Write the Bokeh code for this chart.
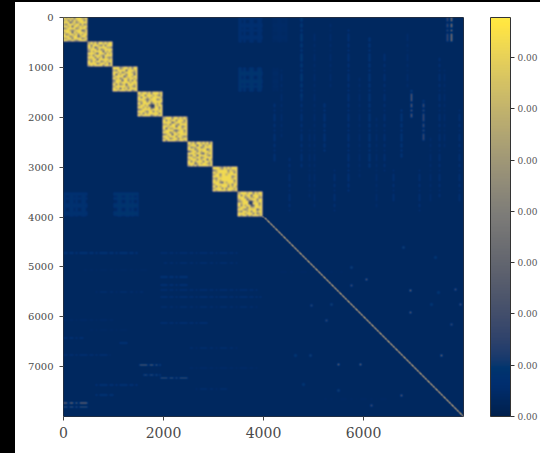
from bokeh.plotting import figure
from bokeh.embed import file_html
from bokeh.resources import INLINE
from bokeh.models import (LinearColorMapper, ColorBar, FixedTicker, Range1d)
from bokeh.palettes import Cividis256
import numpy as np

# ---- data ----
n_side = 8000
vmax = 0.00778
background = 0.043
block_edges = [0, 480, 980, 1480, 1980, 2480, 2980, 3480, 3980]
block_textures = [
 ["989897999889","897979899979","999689789999","879998997978","998969989899","789999789998",
  "999878999679","899969899989","978998979899","999789968998","889979999789","998898789998"],
 ["898979989899","979998797999","989689999887","899979789999","798999969898","999869997989",
  "897999879999","999798969878","889969999989","979899789899","999978998969","898999979989"],
 ["999789989799","879999699989","998978999879","969899799969","899996899899","989789989989",
  "799969979798","899899998999","979789699989","899999889879","989698979999","998999899789"],
 ["989989799989","899799989879","979989899998","999868999789","889979899999","979999689897",
  "899896439899","998989559979","789999899989","999879979899","897989999979","989999789899"],
 ["899979989898","979899799979","999968999889","889799879999","998999699789","969889999899",
  "899997689979","999789899989","789969989999","998999799878","899789979899","979999889989"],
 ["989799898979","899969979899","978899789999","999789999689","689979899989","999899769899",
  "879969999879","998899789999","899979899698","979899979989","999689899879","898979999989"],
 ["999879898999","789999979889","989999989979","899799899999","999899999789","879999999899",
  "989899999979","999769899989","899999989799","979899979898","899979799989","989999899889"],
 ["899989979899","979899699989","999789889978","899968999799","789995489899","989994399979",
  "979899569989","899979889999","998789999689","879989799899","999899979789","989979899989"],
]
block_top = 0.93
# faint rectangular patches: x0, x1, y0, y1, level
patches = [
 (3500, 3980, 0, 500, 0.09), (3500, 3980, 1000, 1480, 0.12),
 (0, 480, 3500, 3980, 0.10), (1000, 1500, 3500, 3980, 0.12),
 (4180, 4480, 0, 500, 0.06), (4180, 4300, 1000, 1480, 0.06),
]
patch_grid = "10011010011001"
# vertical streaks: x, y0, y1, level
v_streaks = [
 (4740, 0, 1600, 0.15), (4740, 1600, 3000, 0.09), (7740, 0, 500, 0.40), (7660, 0, 500, 0.22),
 (6940, 1460, 2000, 0.27), (7180, 1660, 2460, 0.22), (6100, 400, 3000, 0.12), (6740, 1800, 2800, 0.12),
 (5200, 1700, 2700, 0.11), (5680, 200, 3500, 0.10), (4200, 1700, 2900, 0.09), (7500, 800, 3600, 0.08),
 (7900, 1800, 3700, 0.08), (5000, 300, 3800, 0.07), (6400, 700, 3100, 0.08), (4500, 2800, 3900, 0.08),
 (5400, 3000, 3900, 0.08), (7100, 3000, 3900, 0.08), (6580, 3000, 3700, 0.08),
 (4340, 1000, 2400, 0.07), (4900, 2200, 3600, 0.07), (5320, 100, 1400, 0.07), (5900, 1200, 3200, 0.07),
 (6240, 2000, 3800, 0.07), (6860, 300, 1400, 0.07), (7320, 2400, 3700, 0.07), (7600, 1000, 2600, 0.07),
]
# horizontal streaks: y, x0, x1, level
h_streaks = [
 (4720, 0, 1480, 0.17), (4720, 1940, 3480, 0.11), (6960, 1480, 1940, 0.40), (7160, 1600, 1940, 0.28),
 (7220, 1940, 2480, 0.32), (7720, 0, 480, 0.50), (7800, 0, 480, 0.32), (7360, 600, 1480, 0.15),
 (7560, 600, 1000, 0.16), (5200, 1940, 2480, 0.17), (5360, 1940, 2500, 0.14), (5460, 1940, 3900, 0.11),
 (5600, 1940, 3960, 0.12), (5800, 1940, 3900, 0.09), (6120, 1940, 2900, 0.12), (6420, 0, 400, 0.13),
 (6520, 1100, 1300, 0.15), (6760, 0, 950, 0.12), (4920, 2000, 3500, 0.10), (5500, 600, 1600, 0.09),
 (6060, 0, 1000, 0.08), (6260, 500, 1300, 0.07), (6620, 2500, 3500, 0.09), (7020, 2500, 3900, 0.08),
 (7440, 2600, 3300, 0.09), (5060, 400, 1700, 0.07), (5100, 4200, 5600, 0.06), (7640, 5200, 6500, 0.06),
]
streak_dash = "1101101011"
# isolated dots: x, y, level
dots = [
 (6073, 5260, .30), (5773, 5393, .26), (6940, 5493, .36), (7840, 5460, .26), (6940, 5927, .32), (7940, 5760, .26),
 (7773, 6160, .24), (7573, 6780, .36), (5507, 6960, .34), (5940, 6960, .34), (6773, 7580, .30), (6173, 7793, .26),
 (5273, 6093, .24), (4973, 5780, .22), (5373, 5760, .20), (4940, 6793, .20), (4640, 6793, .18), (4807, 7360, .18),
 (5507, 7493, .20), (5773, 5027, .20), (7440, 4827, .18), (6807, 4627, .20), (7373, 5760, .18), (7507, 5527, .18),
]
diag_start = 3980
diag_levels = [0.66, 0.52, 0.70, 0.46, 0.62, 0.74, 0.50, 0.60]
x_ticks = [0, 2000, 4000, 6000]
y_ticks = [0, 1000, 2000, 3000, 4000, 5000, 6000, 7000]
cbar_ticks = [0.0, 0.001, 0.002, 0.003, 0.004, 0.005, 0.006, 0.007]
cbar_label = "0.00"

# ---- assemble the matrix from the lists above ----
cell = 20
N = n_side // cell
m = np.full((N, N), background)

for x0, x1, y0, y1, lev in patches:
    for r in range(y0 // cell, y1 // cell):
        for c in range(x0 // cell, x1 // cell):
            on_r = patch_grid[(r // 2) % len(patch_grid)] == "1"
            on_c = patch_grid[(c // 2) % len(patch_grid)] == "1"
            m[r, c] = lev if (on_r or on_c) else background + 0.01
for x, y0, y1, lev in v_streaks:
    c = x // cell
    for r in range(y0 // cell, y1 // cell):
        if streak_dash[(r // 2) % len(streak_dash)] == "1":
            m[r, c:c + 2] = lev
for y, x0, x1, lev in h_streaks:
    r = y // cell
    for c in range(x0 // cell, x1 // cell):
        if streak_dash[(c // 2) % len(streak_dash)] == "1":
            m[r:r + 1, c] = lev
for x, y, lev in dots:
    m[y // cell - 1:y // cell + 1, x // cell - 1:x // cell + 1] = lev
for b, tex in enumerate(block_textures):
    a0, a1 = block_edges[b] // cell, block_edges[b + 1] // cell
    for r in range(a0, a1):
        for c in range(a0, a1):
            i = (r - a0) * len(tex) // (a1 - a0)
            j = (c - a0) * len(tex) // (a1 - a0)
            m[r, c] = block_top * (int(tex[i][j]) / 9.0) ** 2

# soft 3x3 smoothing: the reference is a blurred screenshot
pad = np.pad(m, 1, mode="edge")
m = (4 * pad[1:-1, 1:-1] + 2 * (pad[:-2, 1:-1] + pad[2:, 1:-1] + pad[1:-1, :-2] + pad[1:-1, 2:])
     + pad[:-2, :-2] + pad[2:, 2:] + pad[:-2, 2:] + pad[2:, :-2]) / 16.0
for k in range(diag_start // cell, N):
    lev = diag_levels[k % len(diag_levels)]
    m[k, k] = lev
    m[k, k - 1] = max(m[k, k - 1], 0.45 * lev)
    m[k - 1, k] = max(m[k - 1, k], 0.45 * lev)

mapper = LinearColorMapper(palette=Cividis256, low=0, high=vmax)

p = figure(width=527, height=451, output_backend="svg", toolbar_location=None,
           x_range=Range1d(0, n_side), y_range=Range1d(n_side, 0),
           min_border_left=48, min_border_top=15, min_border_bottom=37, min_border_right=0,
           frame_width=400, frame_height=399)
p.styles = {"border-left": "15px solid black", "border-top": "2px solid black"}
p.image(image=[m * vmax], x=0, y=0, dw=n_side, dh=n_side, color_mapper=mapper, origin="bottom_left")
p.grid.visible = False
p.outline_line_color = "#2a2f3a"
p.outline_line_width = 1

p.xaxis.ticker = FixedTicker(ticks=x_ticks)
p.yaxis.ticker = FixedTicker(ticks=y_ticks)
p.xaxis.major_label_text_font_size = "14px"
p.yaxis.major_label_text_font_size = "10px"
for ax in (p.xaxis[0], p.yaxis[0]):
    ax.major_label_text_font = "DejaVu Serif"
    ax.major_label_text_color = "#4a4a4a"
    ax.major_tick_line_color = "#444444"
    ax.major_tick_out = 4
    ax.major_tick_in = 0
    ax.minor_tick_line_color = None
    ax.axis_line_color = None
    ax.major_label_standoff = 6

cb = ColorBar(color_mapper=mapper, ticker=FixedTicker(ticks=cbar_ticks),
              major_label_overrides={t: cbar_label for t in cbar_ticks},
              width=20, height=399, location=(27, 0), padding=0, label_standoff=3,
              major_label_text_font="DejaVu Serif", major_label_text_font_size="9px",
              major_label_text_color="#555555", major_tick_line_color="#333333",
              major_tick_in=0, major_tick_out=4, bar_line_color="#333333",
              border_line_color=None, background_fill_color=None)
p.add_layout(cb, "right")

open("out.html", "w").write(file_html(p, INLINE))
